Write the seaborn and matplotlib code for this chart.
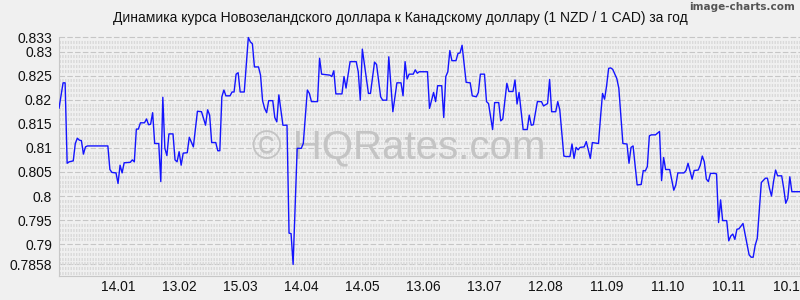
import matplotlib
matplotlib.use("Agg")
import numpy as np
import pandas as pd
import seaborn as sns
import matplotlib.pyplot as plt
import matplotlib.ticker as mticker

# ---------------- data ----------------
START_DATE = "2024-12-16"

day_offsets = [
    0, 2, 3, 4, 5, 7, 8, 9, 10, 11, 12, 13, 14, 24, 25, 26, 28, 29, 30, 31, 32, 35, 36, 37,
    38, 39, 40, 42, 43, 44, 45, 46, 47, 49, 50, 51, 52, 53, 54, 56, 57, 58, 59, 60, 61, 63, 64, 66,
    68, 70, 72, 73, 74, 75, 77, 78, 79, 80, 81, 82, 84, 85, 86, 87, 88, 89, 91, 93, 94, 95, 96, 98,
    99, 100, 101, 102, 103, 105, 106, 107, 108, 110, 112, 113, 114, 115, 117, 119, 120, 122, 123, 124, 127, 128, 129, 133,
    134, 135, 136, 139, 140, 141, 143, 146, 147, 148, 149, 152, 153, 155, 156, 158, 159, 161, 162, 164, 166, 168, 169, 170,
    171, 172, 174, 175, 176, 177, 181, 182, 184, 185, 186, 188, 189, 190, 191, 192, 193, 195, 196, 197, 198, 200, 202, 203,
    205, 206, 207, 209, 210, 211, 213, 214, 216, 217, 218, 220, 221, 223, 224, 225, 226, 228, 230, 231, 232, 233, 235, 237,
    238, 240, 241, 242, 244, 245, 246, 248, 249, 251, 252, 253, 254, 255, 256, 258, 259, 260, 261, 262, 265, 266, 267, 268,
    269, 270, 271, 272, 274, 275, 277, 279, 280, 281, 282, 284, 286, 287, 288, 289, 290, 291, 293, 295, 296, 297, 298, 300,
    302, 303, 304, 307, 308, 309, 311, 312, 314, 315, 316, 317, 318, 319, 320, 322, 323, 324, 325, 326, 328, 329, 330, 331,
    332, 333, 334, 336, 337, 339, 340, 341, 342, 343, 345, 347, 348, 349, 350, 351, 352, 353, 355, 356, 357, 358, 359, 360, 362, 364,
]

rates = [
    .8182, .8235, .8235, .8068, .8071, .8073, .8109, .8120, .8116, .8115, .8087, .8102, .8104, .8104, .8055, .8049, .8048, .8026, .8064, .8048, .8069, .8070, .8075, .8071,
    .8139, .8139, .8152, .8152, .8160, .8148, .8149, .8173, .8109, .8109, .8030, .8205, .8099, .8084, .8129, .8129, .8075, .8071, .8092, .8064, .8089, .8090, .8122, .8102,
    .8176, .8175, .8147, .8179, .8168, .8111, .8111, .8094, .8094, .8206, .8220, .8208, .8208, .8216, .8216, .8253, .8256, .8216, .8216, .8329, .8320, .8316, .8268, .8268,
    .8251, .8198, .8182, .8173, .8198, .8198, .8163, .8154, .8210, .8147, .8147, .7923, .7922, .7858, .8099, .8099, .8109, .8220, .8213, .8196, .8196, .8286, .8253, .8251,
    .8248, .8260, .8212, .8212, .8248, .8224, .8279, .8279, .8258, .8199, .8305, .8213, .8213, .8278, .8273, .8206, .8199, .8199, .8289, .8175, .8235, .8235, .8208, .8279,
    .8243, .8253, .8253, .8262, .8255, .8258, .8258, .8182, .8215, .8196, .8229, .8229, .8163, .8248, .8258, .8302, .8281, .8281, .8296, .8297, .8313, .8236, .8235, .8208,
    .8206, .8215, .8253, .8253, .8196, .8192, .8138, .8194, .8194, .8156, .8160, .8234, .8217, .8217, .8241, .8191, .8215, .8138, .8138, .8168, .8147, .8148, .8196, .8196,
    .8187, .8192, .8242, .8175, .8175, .8196, .8179, .8083, .8082, .8082, .8108, .8078, .8101, .8096, .8101, .8102, .8113, .8096, .8078, .8111, .8109, .8163, .8213, .8201,
    .8229, .8265, .8266, .8263, .8244, .8224, .8109, .8108, .8068, .8101, .8104, .8023, .8024, .8053, .8052, .8061, .8125, .8127, .8127, .8134, .8032, .8080, .8055, .8055,
    .8012, .8023, .8048, .8048, .8053, .8068, .8035, .8053, .8054, .8064, .8083, .8071, .8035, .8030, .8047, .8047, .8046, .7945, .7992, .7949, .7949, .7907, .7917, .7921,
    .7910, .7931, .7932, .7943, .7921, .7878, .7873, .7873, .7898, .7912, .8028, .8037, .8037, .8016, .8000, .8030, .8054, .8042, .8042, .8016, .7985, .7995, .8040, .8009, .8009, .8009,
]

x_tick_dates = ["2025-01-14", "2025-02-13", "2025-03-15", "2025-04-14", "2025-05-14", "2025-06-13",
                "2025-07-13", "2025-08-12", "2025-09-11", "2025-10-11", "2025-11-10", "2025-12-10"]
x_tick_labels = ["14.01", "13.02", "15.03", "14.04", "14.05", "13.06",
                 "13.07", "12.08", "11.09", "11.10", "10.11", "10.12"]

y_ticks = [0.7858, 0.79, 0.795, 0.8, 0.805, 0.81, 0.815, 0.82, 0.825, 0.83, 0.833]
y_tick_labels = ["0.7858", "0.79", "0.795", "0.8", "0.805", "0.81", "0.815", "0.82", "0.825", "0.83", "0.833"]

title = "Динамика курса Новозеландского доллара к Канадскому доллару (1 NZD / 1 CAD) за год"
watermark = "© HQRates.com"
credit = "image-charts.com"

# ---------------- style ----------------
BG = "#f0f0f0"
sns.set_theme(style="white", rc={"axes.facecolor": BG, "figure.facecolor": BG})
plt.rcParams["font.family"] = ["Liberation Sans", "DejaVu Sans"]

fig = plt.figure(figsize=(8, 3), dpi=100, facecolor=BG)
ax = fig.add_axes([59 / 800, 24 / 300, 741 / 800, 240 / 300])
ax.set_facecolor(BG)

start = pd.Timestamp(START_DATE)
df = pd.DataFrame({
    "date": start + pd.to_timedelta(day_offsets, unit="D"),
    "rate": rates,
})

sns.lineplot(data=df, x="date", y="rate", ax=ax, color="#1414ff", linewidth=1.0, zorder=3)

ax.set_xlim(start, start + pd.Timedelta(days=364))
ax.set_ylim(0.7834, 0.83322)

ax.set_xticks(pd.to_datetime(x_tick_dates))
ax.set_xticklabels(x_tick_labels)
ax.set_yticks(y_ticks)
ax.set_yticklabels(y_tick_labels)
ax.yaxis.set_minor_locator(mticker.MultipleLocator(0.001))

ax.grid(which="minor", axis="y", color="#d9d9d9", linestyle=(0, (0.45, 0.45)), linewidth=2.2, zorder=0)
ax.grid(which="major", axis="y", color="#c6c6c6", linestyle=(0, (5, 2)), linewidth=0.8, zorder=1)
ax.grid(which="both", axis="x", visible=False)
ax.set_axisbelow(True)

ax.tick_params(axis="y", which="major", length=3, color="#c0c0c0", labelsize=10, pad=2, labelcolor="#111111")
ax.tick_params(axis="y", which="minor", length=0)
ax.tick_params(axis="x", which="both", length=0, labelsize=10, pad=3, labelcolor="#111111")

for side in ["top", "right"]:
    ax.spines[side].set_visible(False)
for side in ["left", "bottom"]:
    ax.spines[side].set_color("#c8c8c8")
    ax.spines[side].set_linestyle((0, (1, 1)))
    ax.spines[side].set_linewidth(0.8)

ax.set_xlabel("")
ax.set_ylabel("")

ax.text(399 / 800, 1 - 148 / 300, watermark, transform=fig.transFigure, ha="center", va="center",
        fontsize=29, color="#c4c4c4", zorder=2)

fig.text(0.5, 1 - 18 / 300, title, ha="center", va="center", fontsize=10, color="#111111")
fig.text(795 / 800, 1 - 7 / 300, credit, ha="right", va="center", fontsize=7.5, color="#555555",
         fontweight="bold", family=["Liberation Sans Narrow", "DejaVu Sans"])

fig.savefig("out.png", dpi=100, facecolor=BG)
